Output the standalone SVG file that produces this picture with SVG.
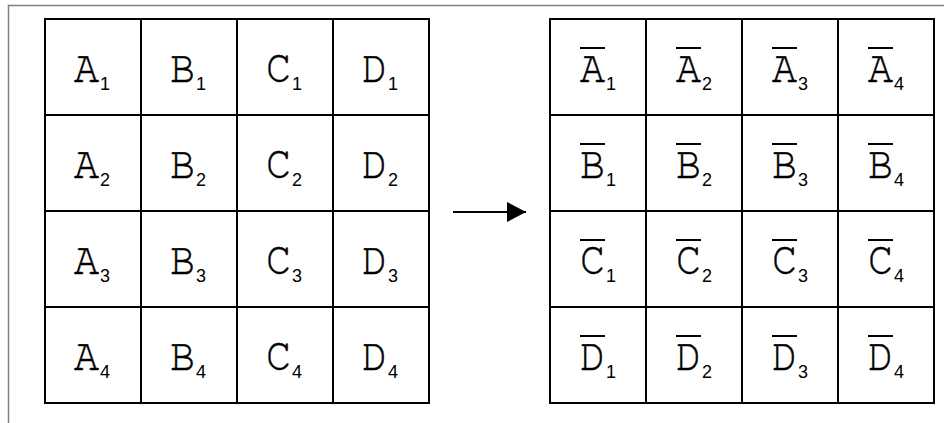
<svg xmlns="http://www.w3.org/2000/svg" width="944" height="423" viewBox="0 0 944 423">
<style>
.cell{fill:#fff;stroke:#000;stroke-width:2}
.m{font-family:"Nimbus Mono PS","Nimbus Mono L","FreeMono","Courier New",Courier,"Liberation Mono",monospace;font-size:46px;fill:#000;stroke:#000;stroke-width:0.5}
.s{font-family:"Liberation Sans",Arial,sans-serif;font-size:18px;fill:#000}
.bar{stroke:#000;stroke-width:2}
.frame{fill:none;stroke:#808080;stroke-width:1.5}
</style>
<defs>
<marker id="ah" markerUnits="userSpaceOnUse" markerWidth="20" markerHeight="20" refX="19" refY="10" orient="auto">
<path d="M0,0 L19,10 L0,20 Z" fill="#000"/>
</marker>
</defs>
<rect class="frame" x="8.5" y="5.5" width="1000" height="1000"/>
<g id="left-grid">
<g id="A1"><rect class="cell" x="45" y="19" width="96" height="96"/><text class="m" x="74" y="82" textLength="25" lengthAdjust="spacingAndGlyphs">A</text><text class="s" x="100" y="89.5">1</text></g>
<g id="B1"><rect class="cell" x="141" y="19" width="96" height="96"/><text class="m" x="170" y="82" textLength="25" lengthAdjust="spacingAndGlyphs">B</text><text class="s" x="196" y="89.5">1</text></g>
<g id="C1"><rect class="cell" x="237" y="19" width="96" height="96"/><text class="m" x="266" y="82" textLength="25" lengthAdjust="spacingAndGlyphs">C</text><text class="s" x="292" y="89.5">1</text></g>
<g id="D1"><rect class="cell" x="333" y="19" width="96" height="96"/><text class="m" x="362" y="82" textLength="25" lengthAdjust="spacingAndGlyphs">D</text><text class="s" x="388" y="89.5">1</text></g>
<g id="A2"><rect class="cell" x="45" y="115" width="96" height="96"/><text class="m" x="74" y="178" textLength="25" lengthAdjust="spacingAndGlyphs">A</text><text class="s" x="100" y="185.5">2</text></g>
<g id="B2"><rect class="cell" x="141" y="115" width="96" height="96"/><text class="m" x="170" y="178" textLength="25" lengthAdjust="spacingAndGlyphs">B</text><text class="s" x="196" y="185.5">2</text></g>
<g id="C2"><rect class="cell" x="237" y="115" width="96" height="96"/><text class="m" x="266" y="178" textLength="25" lengthAdjust="spacingAndGlyphs">C</text><text class="s" x="292" y="185.5">2</text></g>
<g id="D2"><rect class="cell" x="333" y="115" width="96" height="96"/><text class="m" x="362" y="178" textLength="25" lengthAdjust="spacingAndGlyphs">D</text><text class="s" x="388" y="185.5">2</text></g>
<g id="A3"><rect class="cell" x="45" y="211" width="96" height="96"/><text class="m" x="74" y="274" textLength="25" lengthAdjust="spacingAndGlyphs">A</text><text class="s" x="100" y="281.5">3</text></g>
<g id="B3"><rect class="cell" x="141" y="211" width="96" height="96"/><text class="m" x="170" y="274" textLength="25" lengthAdjust="spacingAndGlyphs">B</text><text class="s" x="196" y="281.5">3</text></g>
<g id="C3"><rect class="cell" x="237" y="211" width="96" height="96"/><text class="m" x="266" y="274" textLength="25" lengthAdjust="spacingAndGlyphs">C</text><text class="s" x="292" y="281.5">3</text></g>
<g id="D3"><rect class="cell" x="333" y="211" width="96" height="96"/><text class="m" x="362" y="274" textLength="25" lengthAdjust="spacingAndGlyphs">D</text><text class="s" x="388" y="281.5">3</text></g>
<g id="A4"><rect class="cell" x="45" y="307" width="96" height="96"/><text class="m" x="74" y="370" textLength="25" lengthAdjust="spacingAndGlyphs">A</text><text class="s" x="100" y="377.5">4</text></g>
<g id="B4"><rect class="cell" x="141" y="307" width="96" height="96"/><text class="m" x="170" y="370" textLength="25" lengthAdjust="spacingAndGlyphs">B</text><text class="s" x="196" y="377.5">4</text></g>
<g id="C4"><rect class="cell" x="237" y="307" width="96" height="96"/><text class="m" x="266" y="370" textLength="25" lengthAdjust="spacingAndGlyphs">C</text><text class="s" x="292" y="377.5">4</text></g>
<g id="D4"><rect class="cell" x="333" y="307" width="96" height="96"/><text class="m" x="362" y="370" textLength="25" lengthAdjust="spacingAndGlyphs">D</text><text class="s" x="388" y="377.5">4</text></g>
</g>
<g id="connectors">
<line x1="453" y1="212" x2="526" y2="212" stroke="#000" stroke-width="2" marker-end="url(#ah)"/>
</g>
<g id="right-grid">
<g id="Abar1"><rect class="cell" x="550" y="19" width="96" height="96"/><line class="bar" x1="580" y1="48" x2="605" y2="48"/><text class="m" x="580" y="82" textLength="25" lengthAdjust="spacingAndGlyphs">A</text><text class="s" x="606" y="89.5">1</text></g>
<g id="Abar2"><rect class="cell" x="646" y="19" width="96" height="96"/><line class="bar" x1="676" y1="48" x2="701" y2="48"/><text class="m" x="676" y="82" textLength="25" lengthAdjust="spacingAndGlyphs">A</text><text class="s" x="702" y="89.5">2</text></g>
<g id="Abar3"><rect class="cell" x="742" y="19" width="96" height="96"/><line class="bar" x1="772" y1="48" x2="797" y2="48"/><text class="m" x="772" y="82" textLength="25" lengthAdjust="spacingAndGlyphs">A</text><text class="s" x="798" y="89.5">3</text></g>
<g id="Abar4"><rect class="cell" x="838" y="19" width="96" height="96"/><line class="bar" x1="868" y1="48" x2="893" y2="48"/><text class="m" x="868" y="82" textLength="25" lengthAdjust="spacingAndGlyphs">A</text><text class="s" x="894" y="89.5">4</text></g>
<g id="Bbar1"><rect class="cell" x="550" y="115" width="96" height="96"/><line class="bar" x1="580" y1="144" x2="605" y2="144"/><text class="m" x="580" y="178" textLength="25" lengthAdjust="spacingAndGlyphs">B</text><text class="s" x="606" y="185.5">1</text></g>
<g id="Bbar2"><rect class="cell" x="646" y="115" width="96" height="96"/><line class="bar" x1="676" y1="144" x2="701" y2="144"/><text class="m" x="676" y="178" textLength="25" lengthAdjust="spacingAndGlyphs">B</text><text class="s" x="702" y="185.5">2</text></g>
<g id="Bbar3"><rect class="cell" x="742" y="115" width="96" height="96"/><line class="bar" x1="772" y1="144" x2="797" y2="144"/><text class="m" x="772" y="178" textLength="25" lengthAdjust="spacingAndGlyphs">B</text><text class="s" x="798" y="185.5">3</text></g>
<g id="Bbar4"><rect class="cell" x="838" y="115" width="96" height="96"/><line class="bar" x1="868" y1="144" x2="893" y2="144"/><text class="m" x="868" y="178" textLength="25" lengthAdjust="spacingAndGlyphs">B</text><text class="s" x="894" y="185.5">4</text></g>
<g id="Cbar1"><rect class="cell" x="550" y="211" width="96" height="96"/><line class="bar" x1="580" y1="240" x2="605" y2="240"/><text class="m" x="580" y="274" textLength="25" lengthAdjust="spacingAndGlyphs">C</text><text class="s" x="606" y="281.5">1</text></g>
<g id="Cbar2"><rect class="cell" x="646" y="211" width="96" height="96"/><line class="bar" x1="676" y1="240" x2="701" y2="240"/><text class="m" x="676" y="274" textLength="25" lengthAdjust="spacingAndGlyphs">C</text><text class="s" x="702" y="281.5">2</text></g>
<g id="Cbar3"><rect class="cell" x="742" y="211" width="96" height="96"/><line class="bar" x1="772" y1="240" x2="797" y2="240"/><text class="m" x="772" y="274" textLength="25" lengthAdjust="spacingAndGlyphs">C</text><text class="s" x="798" y="281.5">3</text></g>
<g id="Cbar4"><rect class="cell" x="838" y="211" width="96" height="96"/><line class="bar" x1="868" y1="240" x2="893" y2="240"/><text class="m" x="868" y="274" textLength="25" lengthAdjust="spacingAndGlyphs">C</text><text class="s" x="894" y="281.5">4</text></g>
<g id="Dbar1"><rect class="cell" x="550" y="307" width="96" height="96"/><line class="bar" x1="580" y1="336" x2="605" y2="336"/><text class="m" x="580" y="370" textLength="25" lengthAdjust="spacingAndGlyphs">D</text><text class="s" x="606" y="377.5">1</text></g>
<g id="Dbar2"><rect class="cell" x="646" y="307" width="96" height="96"/><line class="bar" x1="676" y1="336" x2="701" y2="336"/><text class="m" x="676" y="370" textLength="25" lengthAdjust="spacingAndGlyphs">D</text><text class="s" x="702" y="377.5">2</text></g>
<g id="Dbar3"><rect class="cell" x="742" y="307" width="96" height="96"/><line class="bar" x1="772" y1="336" x2="797" y2="336"/><text class="m" x="772" y="370" textLength="25" lengthAdjust="spacingAndGlyphs">D</text><text class="s" x="798" y="377.5">3</text></g>
<g id="Dbar4"><rect class="cell" x="838" y="307" width="96" height="96"/><line class="bar" x1="868" y1="336" x2="893" y2="336"/><text class="m" x="868" y="370" textLength="25" lengthAdjust="spacingAndGlyphs">D</text><text class="s" x="894" y="377.5">4</text></g>
</g>
</svg>
